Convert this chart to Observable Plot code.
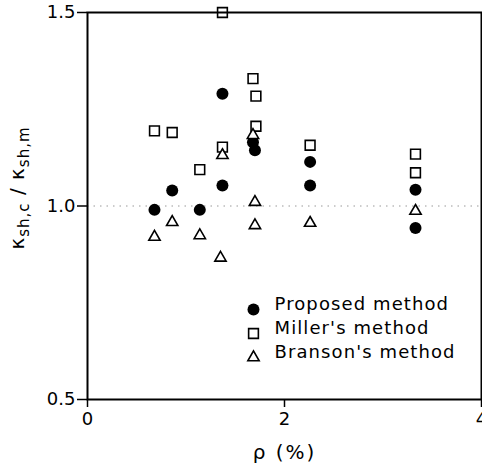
<!DOCTYPE html>
<html>
<head>
<meta charset="utf-8">
<script src="https://cdn.jsdelivr.net/npm/d3@7"></script>
<script src="https://cdn.jsdelivr.net/npm/@observablehq/plot@0.6"></script>
<style>
  body { margin: 0; background: white; }
  #chart svg { display: block; }
</style>
</head>
<body>
<div id="chart"></div>
<script>
// Data
const proposedX = [0.68, 0.86, 1.14, 1.37, 1.37, 1.68, 1.70, 2.26, 2.26, 3.33, 3.33];
const proposedY = [0.99, 1.04, 0.99, 1.29, 1.053, 1.165, 1.144, 1.114, 1.053, 1.042, 0.943];

const millerX = [0.68, 0.86, 1.14, 1.37, 1.37, 1.68, 1.71, 1.71, 2.26, 3.33, 3.33];
const millerY = [1.194, 1.19, 1.094, 1.5, 1.152, 1.329, 1.284, 1.206, 1.157, 1.134, 1.086];

const bransonX = [0.68, 0.86, 1.14, 1.35, 1.37, 1.68, 1.70, 1.70, 2.26, 3.33];
const bransonY = [0.92, 0.958, 0.924, 0.866, 1.131, 1.183, 1.01, 0.95, 0.956, 0.987];

const xTicks = [0, 2, 4];
const yTicks = [0.5, 1.0, 1.5];
const legendLabels = ["Proposed method", "Miller's method", "Branson's method"];
const xLabel = "ρ (%)";

const toRows = (xs, ys) => xs.map((x, i) => ({x, y: ys[i]}));
const proposed = toRows(proposedX, proposedY);
const miller = toRows(millerX, millerY);
const branson = toRows(bransonX, bransonY);

const font = "DejaVu Sans, sans-serif";
const legendMarks = [];
const legendSymbols = [
  {symbol: "circle", fill: "black", stroke: "none", r: 6},
  {symbol: "square", fill: "white", stroke: "black", r: 5.5},
  {symbol: "triangle", fill: "white", stroke: "black", r: 4.2}
];
legendLabels.forEach((label, i) => {
  const s = legendSymbols[i];
  legendMarks.push(Plot.dot([label], {
    frameAnchor: "bottom-left", dx: 166, dy: -90 + 24 * i,
    symbol: s.symbol, fill: s.fill, stroke: s.stroke, r: s.r, strokeWidth: 1.6
  }));
  legendMarks.push(Plot.text([label], {
    text: d => d, frameAnchor: "bottom-left", dx: 187, dy: -90 + 24 * i,
    textAnchor: "start", fontSize: 18, fill: "black", fontFamily: font
  }));
});

const chart = Plot.plot({
  width: 482,
  height: 476,
  marginTop: 12,
  marginBottom: 77,
  marginLeft: 87,
  marginRight: 1,
  style: {fontFamily: font, fontSize: "18px", background: "white", color: "black"},
  x: {domain: [0, 4]},
  y: {domain: [0.5, 1.5]},
  marks: [
    Plot.ruleY([1], {stroke: "#999", strokeDasharray: "1.5,5", strokeWidth: 1}),
    Plot.dot(proposed, {x: "x", y: "y", symbol: "circle", r: 6, fill: "black"}),
    Plot.dot(miller, {x: "x", y: "y", symbol: "square", r: 5.5, fill: "white", stroke: "black", strokeWidth: 1.6}),
    Plot.dot(branson, {x: "x", y: "y", symbol: "triangle", r: 4.2, fill: "white", stroke: "black", strokeWidth: 1.6}),
    Plot.frame({stroke: "black", strokeWidth: 2}),
    Plot.axisY({ticks: yTicks, tickFormat: d3.format(".1f"), tickSize: 10, tickPadding: 2, strokeWidth: 1.5, fontSize: 18, label: null}),
    Plot.axisX({ticks: xTicks, tickFormat: d3.format("d"), tickSize: 8, tickPadding: 5, strokeWidth: 1.5, fontSize: 18, label: null}),
    Plot.text([xLabel], {text: d => d, frameAnchor: "bottom", dy: 59, fontSize: 20, fill: "black", fontFamily: font}),
    ...legendMarks
  ]
});

document.getElementById("chart").appendChild(chart);

const svg = d3.select(chart);
svg.selectAll("text").each(function () {
  const t = this.textContent;
  if (legendLabels.includes(t)) this.setAttribute("letter-spacing", "1.1");
  if (t === xLabel) this.setAttribute("letter-spacing", "2");
});

// Rotated y-axis label with subscripts
const yl = svg.append("text")
  .attr("transform", "translate(24,188) rotate(-90)")
  .attr("text-anchor", "middle")
  .attr("font-family", font)
  .attr("font-size", 20)
  .attr("letter-spacing", "1")
  .attr("fill", "black");
yl.append("tspan").text("κ");
yl.append("tspan").attr("font-size", 15).attr("dy", 5).text("sh,c");
yl.append("tspan").attr("dy", -5).text(" / κ");
yl.append("tspan").attr("font-size", 15).attr("dy", 5).text("sh,m");
</script>
</body>
</html>
